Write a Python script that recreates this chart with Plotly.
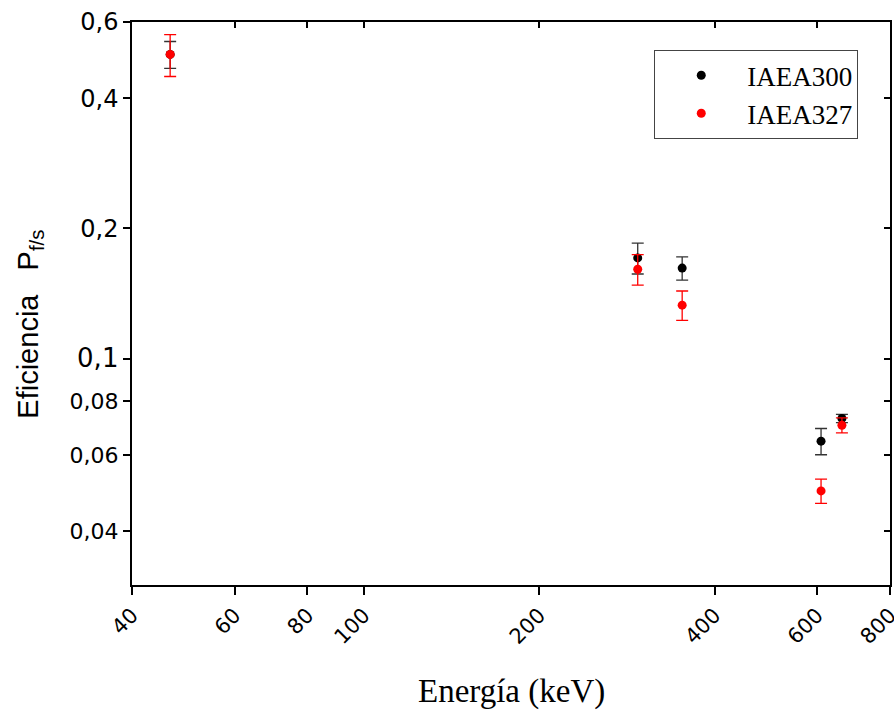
import plotly.graph_objects as go
import math

energies = [46.5, 295.2, 351.9, 609.3, 661.7]
iaea300 = [0.505, 0.171, 0.162, 0.0645, 0.0728]
iaea300_err = [0.036, 0.014, 0.010, 0.0045, 0.0016]
iaea327 = [0.505, 0.161, 0.133, 0.0495, 0.0702]
iaea327_err = [0.056, 0.013, 0.0104, 0.0032, 0.0028]

x_ticks = [40, 60, 80, 100, 200, 400, 600, 800]
x_ticktext = ["40", "60", "80", "100", "200", "400", "600", "800"]
y_ticks = [0.04, 0.06, 0.08, 0.1, 0.2, 0.4, 0.6]
y_ticktext = ["<span style='font-size:22px'>0,04</span>",
              "<span style='font-size:22px'>0,06</span>",
              "<span style='font-size:22px'>0,08</span>",
              "<span style='font-size:26px'>0,1</span>",
              "0,2", "0,4", "0,6"]

x_range = [40, 800]
y_range = [0.03, 0.6]

xr = [math.log10(x_range[0]) - 1e-4, math.log10(x_range[1]) + 1e-4]
yr = [math.log10(y_range[0]), math.log10(y_range[1]) + 1e-4]

fig = go.Figure()
fig.add_trace(go.Scatter(
    x=energies, y=iaea300, mode="markers", name="IAEA300",
    marker=dict(color="black", size=9),
    error_y=dict(type="data", array=iaea300_err, visible=True,
                 color="#333333", thickness=1.3, width=6),
))
fig.add_trace(go.Scatter(
    x=energies, y=iaea327, mode="markers", name="IAEA327",
    marker=dict(color="#ff0000", size=9),
    error_y=dict(type="data", array=iaea327_err, visible=True,
                 color="#ff0000", thickness=1.3, width=6),
))
# invisible trace for mirror axes
fig.add_trace(go.Scatter(x=[x_range[0]], y=[y_range[0]], xaxis="x2", yaxis="y2",
                         mode="markers", marker=dict(opacity=0), showlegend=False,
                         hoverinfo="skip"))

fig.update_layout(
    width=894, height=716,
    margin=dict(l=132, r=4, t=22, b=131),
    paper_bgcolor="white", plot_bgcolor="white",
    showlegend=True,
    legend=dict(x=0.689, y=0.95, xanchor="left", yanchor="top",
                bordercolor="#444444", borderwidth=1, bgcolor="white",
                font=dict(family="Liberation Serif", size=27, color="black"),
                itemwidth=82, tracegroupgap=0),
    xaxis=dict(type="log", range=xr, tickvals=x_ticks, ticktext=x_ticktext,
               tickangle=-45, ticks="outside", ticklen=8, tickwidth=1.5,
               tickcolor="black", showline=True, linecolor="black", linewidth=1.5,
               showgrid=False, zeroline=False, ticklabeloverflow="allow",
               automargin=False,
               tickfont=dict(family="DejaVu Sans", size=21, color="black")),
    yaxis=dict(type="log", range=yr, tickvals=y_ticks, ticktext=y_ticktext,
               ticks="outside", ticklen=7, tickwidth=1.5, tickcolor="black",
               showline=True, linecolor="black", linewidth=1.5,
               showgrid=False, zeroline=False, ticklabeloverflow="allow",
               automargin=False,
               tickfont=dict(family="DejaVu Sans", size=24, color="black")),
    xaxis2=dict(type="log", range=xr, overlaying="x", side="top", anchor="y2",
                tickvals=x_ticks, showticklabels=False, ticks="inside",
                ticklen=6, tickwidth=1.5, tickcolor="black", showline=True,
                linecolor="black", linewidth=1.5, showgrid=False, zeroline=False,
                automargin=False),
    yaxis2=dict(type="log", range=yr, overlaying="y", side="right", anchor="x2",
                tickvals=y_ticks, showticklabels=False, ticks="inside",
                ticklen=6, tickwidth=1.5, tickcolor="black", showline=True,
                linecolor="black", linewidth=1.5, showgrid=False, zeroline=False,
                automargin=False),
    annotations=[
        dict(text="Energía (keV)", xref="paper", yref="paper", x=0.5, y=-0.19,
             xanchor="center", yanchor="middle", showarrow=False,
             font=dict(family="Liberation Serif", size=33, color="black")),
        dict(text="Eficiencia   P<sub>f/s</sub>", xref="paper", yref="paper",
             x=-0.135, y=0.4636, xanchor="center", yanchor="middle", textangle=-90,
             showarrow=False,
             font=dict(family="Liberation Sans", size=29, color="black")),
    ],
)

fig.write_html("out.html")
